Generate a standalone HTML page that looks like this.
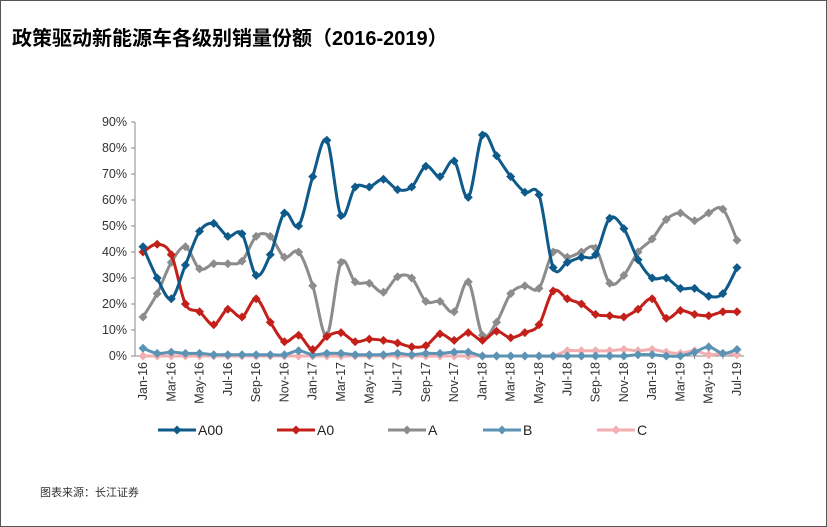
<!DOCTYPE html>
<html><head><meta charset="utf-8"><style>
body{margin:0;background:#fff;}
#wrap{position:relative;width:825px;height:525px;border:1px solid #555;overflow:hidden;font-family:"Liberation Sans","Noto Sans CJK SC",sans-serif;}
</style></head><body>
<div id="wrap">
<svg id="svg" width="827" height="527" style="position:absolute;left:-1px;top:-1px">
<text x="12" y="45" font-size="20" font-weight="bold" fill="#000" font-family="'Liberation Sans','Noto Sans CJK SC',sans-serif">政策驱动新能源车各级别销量份额（2016-2019）</text>
<text x="40" y="496" font-size="11" fill="#333" font-family="'Liberation Sans','Noto Sans CJK SC',sans-serif">图表来源：长江证券</text>
</svg>
</div>
<script>
const categories=[];
const monthNames=["Jan","Feb","Mar","Apr","May","Jun","Jul","Aug","Sep","Oct","Nov","Dec"];
for(let y=16;y<=19;y++)for(let m=0;m<12;m++){if(y===19&&m>6)break;categories.push(monthNames[m]+"-"+y);}
const seriesA00=[42,30,22,35,48,51,46,47,31,39,55,50,69,83,54,65,65,68,64,65,73,69,75,61,85,77,69,63,62,34,36,38,39,53,49,37,30,30,26,26,23,24,34];
const seriesA0=[40,43,39,20,17,12,18,15,22,13,5.5,8,2.5,7.5,9,5.5,6.5,6,5,3.5,4,8.5,6,9,6,9.5,7,9,12,25,22,20,16,15.5,15,18,22,14.5,17.5,16,15.5,17,17];
const seriesA=[15,24,36,42,33.5,35.5,35.5,36.5,46,46,38,40,27,8,36,28.5,28,24.5,30.5,30,21,21,17,28.5,8,13,24,27,26,40,38,40,41.5,28,31,40,45,52.5,55,52,55,56.5,44.5];
const seriesB=[3,1,1.5,1,1,0.5,0.5,0.5,0.5,0.5,0.5,2,0.5,1,1,0.5,0.5,0.5,1,0.5,1,1,1.5,1.5,0,0,0,0,0,0,0,0,0,0,0,0.5,0.5,0,0,1.5,3.5,1,2.5];
const seriesC=[0,0,0,0,0,0,0,0,0,0,0,0,0,0,0,0,0,0,0,0,0,0,0,0,0,0,0,0,0,0,2,2,2,2,2.5,2,2.5,1.5,1,2,0.5,1,0.5];
const yTicks=[0,10,20,30,40,50,60,70,80,90];
const seriesNames=["A00","A0","A","B","C"];
const NS="http://www.w3.org/2000/svg";
const svg=document.getElementById("svg");
const X0=143,X1=737,Y0=356,Y1=122;
function xs(i){return X0+(X1-X0)*i/(categories.length-1);}
function ys(v){return Y0-(Y0-Y1)*v/90;}
function mk(t,a){const e=document.createElementNS(NS,t);for(const k in a)e.setAttribute(k,a[k]);svg.appendChild(e);return e;}
let ax=mk("line",{x1:X0-8,y1:Y1,x2:X0-8,y2:Y0,stroke:"#888","stroke-width":1});


ax=mk("line",{x1:X0-8,y1:Y0,x2:X1+7,y2:Y0,stroke:"#888","stroke-width":1});


yTicks.forEach(v=>{
 const t=mk("line",{x1:X0-12,y1:ys(v),x2:X0-8,y2:ys(v),stroke:"#888"});
 
 
 const l=mk("text",{x:X0-16,y:ys(v)+4,"font-size":12.5,"text-anchor":"end",fill:"#333"});
 l.textContent=v+"%";
 
 
});
categories.forEach((c,i)=>{
 const t=mk("line",{x1:xs(i),y1:Y0,x2:xs(i),y2:Y0+3,stroke:"#888"});
 
 
 if(i%2===0){
  const l=mk("text",{x:0,y:0,"font-size":12.5,"text-anchor":"end",fill:"#333",transform:`translate(${xs(i)+4},${Y0+6}) rotate(-90)`});
  l.textContent=c;
  
  
 }
});
function smooth(pts){
 let d="M"+pts[0][0]+","+pts[0][1];
 for(let i=0;i<pts.length-1;i++){
  const p0=pts[Math.max(0,i-1)],p1=pts[i],p2=pts[i+1],p3=pts[Math.min(pts.length-1,i+2)];
  const c1=[p1[0]+(p2[0]-p0[0])/6,p1[1]+(p2[1]-p0[1])/6],c2=[p2[0]-(p3[0]-p1[0])/6,p2[1]-(p3[1]-p1[1])/6];
  d+=` C${c1[0]},${c1[1]} ${c2[0]},${c2[1]} ${p2[0]},${p2[1]}`;
 }
 return d;
}
function diamond(x,y,r,col,name){
 const p=mk("polygon",{points:`${x},${y-r} ${x+r},${y} ${x},${y+r} ${x-r},${y}`,fill:col});
 
 
}
const all=[seriesC,seriesB,seriesA,seriesA0,seriesA00];
const colors=["#f2aeb0","#5b93b5","#8c8c8c","#c4201a","#0e5a8a"];
const names=["C","B","A","A0","A00"];
all.forEach((s,k)=>{
 const pts=s.map((v,i)=>[xs(i),ys(v)]);
 const p=mk("path",{d:smooth(pts),fill:"none",stroke:colors[k],"stroke-width":3});
 
 
 pts.forEach(q=>diamond(q[0],q[1],4.5,colors[k],'point-'+names[k].toLowerCase()));
});
const legX=[158,277,388,483,597];
const legColors=["#0e5a8a","#c4201a","#8c8c8c","#5b93b5","#f2aeb0"];
seriesNames.forEach((n,k)=>{
 const y=430,x=legX[k];
 const l=mk("line",{x1:x,y1:y,x2:x+38,y2:y,stroke:legColors[k],"stroke-width":3});
 
 
 diamond(x+19,y,4.5,legColors[k],'legend-marker-'+n.toLowerCase());
 const t=mk("text",{x:x+40,y:y+5,"font-size":14,fill:"#222"});
 t.textContent=n;
 
 
});
</script>
</body></html>
